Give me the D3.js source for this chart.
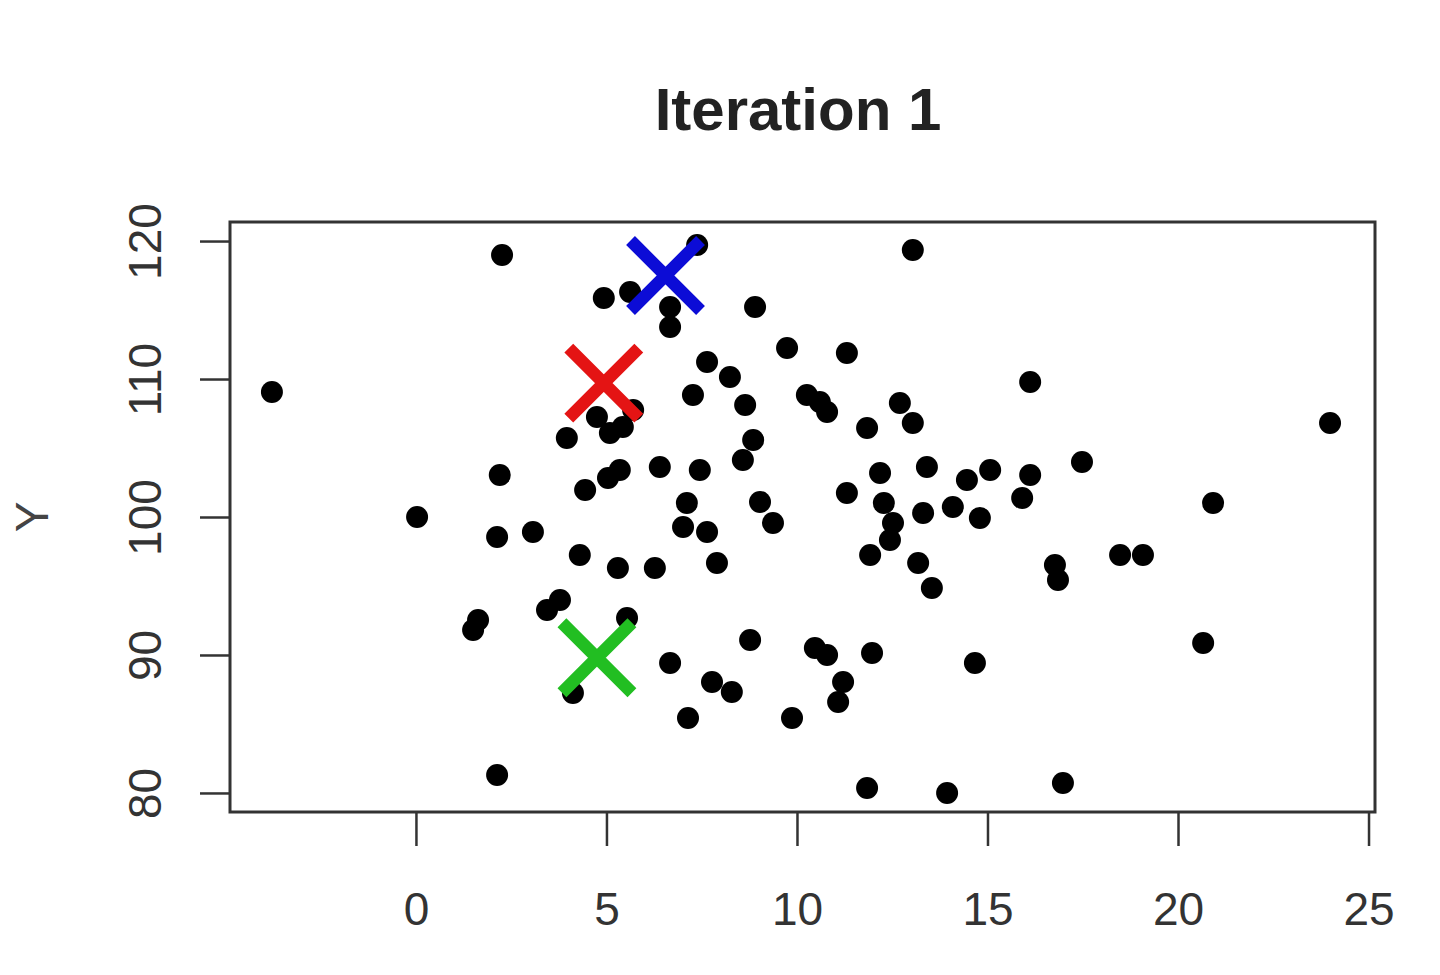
<!DOCTYPE html>
<html><head><meta charset="utf-8">
<script src="https://cdn.jsdelivr.net/npm/d3@7"></script>
<style>html,body{margin:0;padding:0;background:#fff;} svg{display:block;}</style>
</head><body>
<script>
const titleText = "Iteration 1";
const yLabel = "Y";
const xTicks = [0, 5, 10, 15, 20, 25];
const yTicks = [80, 90, 100, 110, 120];

const pointsX = [-3.78,2.26,13.04,4.93,5.62,6.67,6.67,7.38,8.90,9.74,11.31,7.64,8.24,7.27,8.64,10.26,10.60,10.79,11.84,12.70,13.04,16.12,23.99,
3.96,4.75,5.09,5.43,5.70,8.85,8.58,6.40,7.45,5.35,5.04,4.44,2.20,11.31,12.18,13.41,14.46,15.07,17.48,16.12,15.91,
7.11,9.03,12.28,13.31,14.09,14.80,20.92,0.03,7.01,7.64,9.37,12.52,12.44,11.92,2.13,3.07,
4.30,5.30,6.27,7.90,13.18,13.54,18.48,19.08,16.77,16.85,
3.78,3.44,1.63,1.50,5.54,8.77,10.47,10.79,11.97,14.67,20.66,6.67,4.12,7.77,8.29,11.21,11.08,7.14,9.87,
2.13,11.84,13.94,16.98];
const pointsY = [109.06,118.99,119.35,115.87,116.30,115.22,113.77,119.71,115.22,112.25,111.88,111.23,110.14,108.84,108.12,108.84,108.33,107.61,106.45,108.26,106.81,109.78,106.81,
105.72,107.25,106.09,106.52,107.75,105.58,104.13,103.62,103.41,103.41,102.83,101.96,103.04,101.74,103.19,103.62,102.68,103.41,103.99,103.04,101.38,
101.01,101.09,101.01,100.29,100.72,99.93,101.01,100.00,99.28,98.91,99.57,99.57,98.33,97.25,98.55,98.91,
97.25,96.30,96.30,96.67,96.67,94.86,97.25,97.25,96.52,95.43,
93.99,93.26,92.54,91.81,92.68,91.09,90.51,90.00,90.14,89.42,90.87,89.42,87.25,88.04,87.32,88.04,86.59,85.43,85.43,
81.30,80.36,80.00,80.72];

const centroidX = [6.55, 4.93, 4.75];
const centroidY = [117.5, 109.7, 89.8];
const centroidColors = ["#0c0cd6", "#e41414", "#22be22"];

const W = 1440, H = 975;
const svg = d3.select("body").append("svg").attr("width", W).attr("height", H);
const pLeft = 230, pRight = 1375, pTop = 222, pBottom = 812;
const x = d3.scaleLinear().domain([-4.88, 25.17]).range([pLeft, pRight]);
const y = d3.scaleLinear().domain([78.62, 121.38]).range([pBottom, pTop]);
const font = "'Liberation Sans', Arial, sans-serif";
const ink = "#333";

// title
svg.append("text").attr("x", 798).attr("y", 130).attr("text-anchor", "middle")
  .attr("font-family", font).attr("font-weight", "bold").attr("font-size", 60)
  .attr("fill", "#222").text(titleText);

// y label
svg.append("text").attr("transform", "translate(48,517) rotate(-90)")
  .attr("text-anchor", "middle").attr("font-family", font).attr("font-size", 46)
  .attr("fill", "#444").text(yLabel);

// x axis
const gx = svg.append("g").attr("transform", `translate(0,${pBottom})`)
  .call(d3.axisBottom(x).tickValues(xTicks).tickSize(34).tickPadding(46).tickFormat(d3.format("d")));
gx.select(".domain").remove();
gx.selectAll(".tick line").attr("stroke", ink).attr("stroke-width", 2.5);
gx.selectAll(".tick text").attr("font-family", font).attr("font-size", 46).attr("fill", ink);

// y axis
const gy = svg.append("g").attr("transform", `translate(${pLeft},0)`)
  .call(d3.axisLeft(y).tickValues(yTicks).tickSize(30).tickFormat(d3.format("d")));
gy.select(".domain").remove();
gy.selectAll(".tick line").attr("stroke", ink).attr("stroke-width", 2.5);
gy.selectAll(".tick text").attr("font-family", font).attr("font-size", 46).attr("fill", ink)
  .attr("transform", "rotate(-90)").attr("x", 0).attr("y", -69).attr("dy", 0)
  .attr("text-anchor", "middle");

// box
svg.append("rect").attr("x", pLeft).attr("y", pTop).attr("width", pRight - pLeft).attr("height", pBottom - pTop)
  .attr("fill", "none").attr("stroke", ink).attr("stroke-width", 3);

// points
svg.append("g").selectAll("circle").data(pointsX.map((v, i) => [v, pointsY[i]])).join("circle")
  .attr("cx", d => x(d[0])).attr("cy", d => y(d[1])).attr("r", 11).attr("fill", "#000");

// centroids
const s = 35;
const cg = svg.append("g");
centroidX.forEach((cx, i) => {
  const px = x(cx), py = y(centroidY[i]);
  cg.append("path").attr("d", `M${px - s},${py - s}L${px + s},${py + s}M${px - s},${py + s}L${px + s},${py - s}`)
    .attr("stroke", centroidColors[i]).attr("stroke-width", 12.5).attr("stroke-linecap", "butt").attr("fill", "none");
});
</script>
</body></html>
